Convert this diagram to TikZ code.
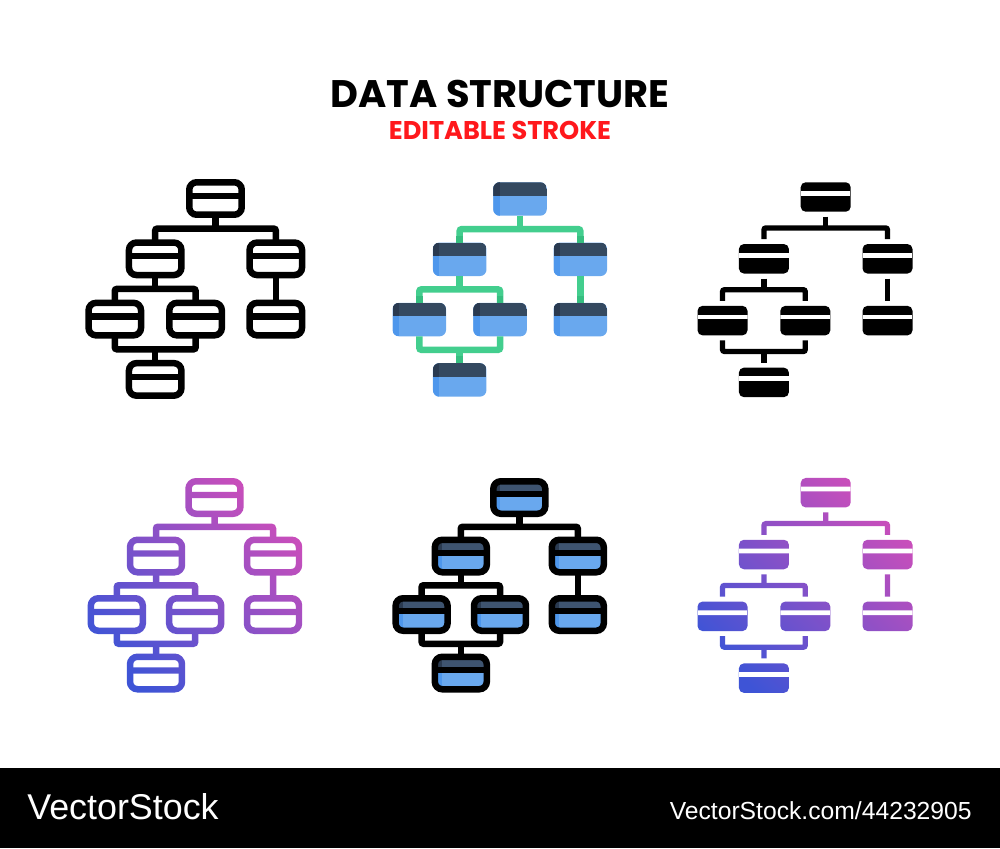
\documentclass[tikz,border=0pt]{standalone}
\usepackage{fontspec}
\usetikzlibrary{fadings}
\newfontfamily\titlefont{Poppins}
\newfontfamily\stockfont{Liberation Sans}
\definecolor{myblue}{RGB}{105, 168, 238}
\definecolor{mybluedark}{RGB}{78, 151, 236}
\definecolor{myslate}{RGB}{52, 73, 96}
\definecolor{myslatedark}{RGB}{42, 58, 80}
\definecolor{myslatemid}{RGB}{62, 84, 112}
\definecolor{mygreen}{RGB}{67, 206, 142}
\definecolor{mygreendark}{RGB}{54, 190, 128}
\definecolor{mygradblue}{RGB}{62, 84, 214}
\definecolor{mygradpink}{RGB}{204, 78, 186}
\definecolor{myred}{RGB}{255, 24, 28}
\tikzset{
  linebox/.style={
    draw=#1, rectangle, line width=.13cm, rounded corners=.15cm,
    minimum width=1.05cm, minimum height=.65cm, inner sep=0pt, outer sep=0pt,
    path picture={\draw[#1, line width=.125cm, sharp corners] ([yshift=-.275cm]path picture bounding box.north west) -- ([yshift=-.275cm]path picture bounding box.north east);}
  },
  flatbox/.style={
    rectangle, fill=myblue, rounded corners=.13cm,
    minimum width=1.07cm, minimum height=.67cm, inner sep=0pt, outer sep=0pt,
    path picture={
      \fill[mybluedark, sharp corners] (path picture bounding box.south west) rectangle ([xshift=.13cm]path picture bounding box.north west);
      \fill[myslate, sharp corners] (path picture bounding box.north west) rectangle ([yshift=-.27cm]path picture bounding box.north east);
      \fill[myslatedark, sharp corners] (path picture bounding box.north west) rectangle ([xshift=.13cm, yshift=-.27cm]path picture bounding box.north west);
    }
  },
  glyphbox/.style 2 args={
    rectangle, fill=#1, rounded corners=.1cm,
    minimum width=1cm, minimum height=.59cm, inner sep=0pt, outer sep=0pt,
    path picture={\fill[#2, sharp corners] ([yshift=-.175cm]path picture bounding box.north west) rectangle ([yshift=-.27cm]path picture bounding box.north east);}
  },
  filledbox/.style={
    linebox=black, minimum width=1.04cm, fill=myblue,
    path picture={
      \fill[mybluedark, sharp corners] (path picture bounding box.south west) rectangle ([xshift=.14cm]path picture bounding box.north west);
      \fill[myslatemid, sharp corners] (path picture bounding box.north west) rectangle ([yshift=-.26cm]path picture bounding box.north east);
      \fill[myslatedark, sharp corners] (path picture bounding box.north west) rectangle ([xshift=.14cm, yshift=-.26cm]path picture bounding box.north west);
      \draw[black, line width=.125cm, sharp corners] ([yshift=-.26cm]path picture bounding box.north west) -- ([yshift=-.26cm]path picture bounding box.north east);
    }
  },
  link/.style={
    draw=#1, line width=.13cm, rounded corners=.04cm
  },
  gaplink/.style={
    draw=#1, line width=.105cm, rounded corners=.04cm, shorten >=.1cm, shorten <=.1cm
  },
  titletext/.style={
    inner sep=0pt, font=\titlefont\bfseries\fontsize{21.85}{24}\selectfont
  },
  subtitletext/.style={
    inner sep=0pt, text=myred, font=\titlefont\bfseries\fontsize{14.6}{18}\selectfont
  },
  stocktext/.style={
    inner sep=0pt, text=white, font=\stockfont
  }
}
% nodes first, links on top; #4 is the row spacing
\newcommand{\treeicon}[6]{
  \begin{scope}[shift={(#2,#3)}, x=#4*.02cm, y=-#4*.02cm]
    \node[#5] (#1root) at (0,0) {};
    \node[#5] (#1a) at (-1,1) {};
    \node[#5] (#1b) at (1,1) {};
    \node[#5] (#1c) at (-1.67,2) {};
    \node[#5] (#1d) at (-.33,2) {};
    \node[#5] (#1e) at (1,2) {};
    \node[#5] (#1f) at (-1,3) {};
    \coordinate (#1busone) at (0,.5);
    \coordinate (#1bustwo) at (-1,1.5);
    \coordinate (#1busthree) at (-1,2.5);

    \draw[#6, shorten >=0pt] (#1root.south) -- (#1busone);
    \draw[#6] (#1a.north) |- (#1busone) -| (#1b.north);
    \draw[#6, shorten >=0pt] (#1a.south) -- (#1bustwo);
    \draw[#6] (#1c.north) |- (#1bustwo) -| (#1d.north);
    \draw[#6] (#1b.south) -- (#1e.north);
    \draw[#6] (#1c.south) |- (#1busthree) -| (#1d.south);
    \draw[#6, shorten >=0pt] (#1f.north) -- (#1busthree);
  \end{scope}
}
\begin{tikzfadingfrompicture}[name=outlinefade, x=.02cm, y=-.02cm]
  \useasboundingbox (85,475) rectangle (305,695);
  \treeicon{p}{214.5}{497.5}{58.5}{linebox=transparent!0, minimum width=1.04cm}{link=transparent!0}
\end{tikzfadingfrompicture}
\begin{tikzfadingfrompicture}[name=glyphfade, x=.02cm, y=-.02cm]
  \useasboundingbox (695,475) rectangle (915,695);
  \treeicon{q}{825.7}{492.7}{61.8}{glyphbox={transparent!0}{transparent!100}}{gaplink=transparent!0}
\end{tikzfadingfrompicture}
\begin{document}
\begin{tikzpicture}[x=.02cm, y=-.02cm]
  \useasboundingbox (0,0) rectangle (1000,848);
  \fill[white] (0,0) rectangle (1000,848);
  \node[titletext] (title) at (500,94) {DATA STRUCTURE};
  \node[subtitletext] (subtitle) at (500,130) {EDITABLE STROKE};

  % top row
  \treeicon{u}{215.5}{198.5}{60.3}{linebox=black}{link=black}
  \treeicon{v}{520}{199}{60.3}{flatbox}{link=mygreen}
  \draw[link=mygreendark, rounded corners=0pt] (va.north) -- ++(0,-7) (vb.north) -- ++(0,-7) (vc.north) -- ++(0,-7) (vd.north) -- ++(0,-7) (ve.north) -- ++(0,-7) (vf.north) -- ++(0,-7);
  \treeicon{w}{825.7}{197}{61.8}{glyphbox={black}{white}}{gaplink=black}

  % bottom row
  \shade[bottom color=mygradblue, top color=mygradpink, shading angle=-45, path fading=outlinefade, fit fading=false, fading transform={shift={(195,585)}}] (85,475) rectangle (305,695);
  \treeicon{x}{519.3}{497.5}{58.5}{filledbox}{link=black}
  \shade[bottom color=mygradblue, top color=mygradpink, shading angle=-45, path fading=glyphfade, fit fading=false, fading transform={shift={(805,585)}}] (695,475) rectangle (915,695);

  % footer
  \fill[black] (0,768) rectangle (1000,848);
  \node[stocktext, anchor=base west] (brand) at (27,819) {\fontsize{20.4}{24}\selectfont VectorStock};
  \node[stocktext, anchor=base east] (stockid) at (972,819) {\fontsize{14.05}{18}\selectfont VectorStock.com/44232905};
\end{tikzpicture}
\end{document}
